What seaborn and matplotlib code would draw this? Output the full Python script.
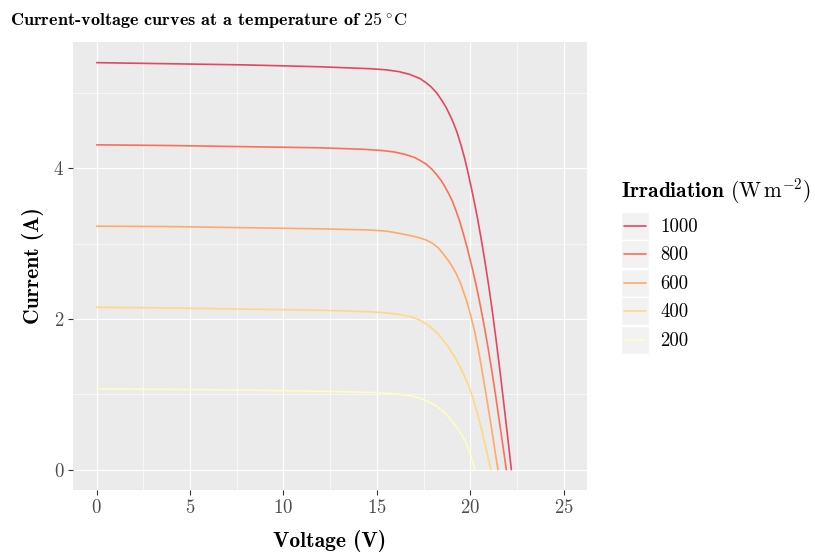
import matplotlib
matplotlib.use("Agg")
import matplotlib.pyplot as plt
import numpy as np
import pandas as pd
import seaborn as sns
from matplotlib.lines import Line2D
from matplotlib.patches import Rectangle
from matplotlib.legend_handler import HandlerBase
from matplotlib.ticker import MultipleLocator

# ---------------- data ----------------
irradiation_levels = ["1000", "800", "600", "400", "200"]

v_1000 = [0, 4, 8, 12, 14.6, 15.5, 16.2, 16.75, 17.0, 17.3, 17.6, 17.9, 18.2, 18.45, 18.7, 18.9, 19.1,
          19.3, 19.5, 19.7, 19.9, 20.1, 20.25, 20.4, 20.6, 20.8, 21.0, 21.2, 21.4, 21.6, 21.8, 22.0, 22.2]
i_1000 = [5.40, 5.385, 5.37, 5.345, 5.32, 5.305, 5.28, 5.245, 5.22, 5.19, 5.14, 5.08, 5.00, 4.91, 4.81, 4.71, 4.60,
          4.47, 4.31, 4.13, 3.92, 3.69, 3.51, 3.32, 3.04, 2.74, 2.42, 2.07, 1.69, 1.29, 0.87, 0.44, 0.0]

v_800 = [0, 4, 8, 12, 14.33, 15.23, 15.93, 16.48, 16.73, 17.03, 17.33, 17.63, 17.93, 18.18, 18.43, 18.63, 18.83,
         19.03, 19.23, 19.43, 19.63, 19.83, 19.98, 20.13, 20.33, 20.53, 20.73, 20.93, 21.13, 21.33, 21.53, 21.73, 21.93]
i_800 = [4.31, 4.30, 4.285, 4.27, 4.25, 4.235, 4.215, 4.185, 4.165, 4.14, 4.10, 4.055, 3.99, 3.92, 3.84, 3.76, 3.67,
         3.57, 3.44, 3.30, 3.13, 2.95, 2.80, 2.65, 2.43, 2.19, 1.93, 1.65, 1.35, 1.03, 0.69, 0.35, 0.0]

v_600 = [0, 4, 8, 12, 14.6, 15.5, 16.2, 16.8, 17.3, 17.65, 18.0, 18.3, 18.53, 18.75, 19.0, 19.25, 19.5,
         19.79, 20.0, 20.23, 20.45, 20.67, 20.9, 21.12, 21.3, 21.48]
i_600 = [3.23, 3.225, 3.21, 3.195, 3.18, 3.165, 3.135, 3.105, 3.075, 3.045, 3.00, 2.94, 2.87, 2.80, 2.71, 2.60, 2.46,
         2.25, 2.07, 1.84, 1.57, 1.26, 0.92, 0.58, 0.29, 0.0]

v_400 = [0, 4, 8, 12, 14.6, 15.5, 16.2, 16.8, 17.3, 17.75, 18.18, 18.55, 18.89, 19.25, 19.6, 19.9, 20.14,
         20.4, 20.6, 20.85, 21.1]
i_400 = [2.155, 2.145, 2.13, 2.115, 2.095, 2.08, 2.06, 2.03, 1.985, 1.915, 1.825, 1.72, 1.605, 1.46, 1.29, 1.12, 0.95,
         0.73, 0.54, 0.28, 0.0]

v_200 = [0, 4, 8, 12, 14.6, 15.5, 16.2, 16.8, 17.3, 17.75, 18.18, 18.55, 18.89, 19.2, 19.52, 19.75, 19.96,
         20.1, 20.25]
i_200 = [1.073, 1.065, 1.055, 1.04, 1.025, 1.015, 1.0, 0.98, 0.95, 0.905, 0.845, 0.775, 0.685, 0.59, 0.47, 0.37, 0.235,
         0.135, 0.0]

line_colors = ["#E5475F", "#FF6F57", "#FFA96B", "#FFD884", "#FFFDC2"]

x_ticks = [0, 5, 10, 15, 20, 25]
y_ticks = [0, 2, 4]

title_text = "Current-voltage curves at a temperature of $25\\,^{\\circ}\\mathrm{C}$"
x_label = "Voltage (V)"
y_label = "Current (A)"
legend_title = "Irradiation $(\\mathrm{W\\,m^{-2}})$"

# ---------------- build table ----------------
series_v = [v_1000, v_800, v_600, v_400, v_200]
series_i = [i_1000, i_800, i_600, i_400, i_200]
frames = []
for lvl, vv, ii in zip(irradiation_levels, series_v, series_i):
    frames.append(pd.DataFrame({"Voltage": vv, "Current": ii, "Irradiation": lvl}))
df = pd.concat(frames, ignore_index=True)
palette = dict(zip(irradiation_levels, line_colors))

# ---------------- style ----------------
sns.set_theme(style="darkgrid", rc={
    "axes.facecolor": "#EBEBEB",
    "figure.facecolor": "white",
    "grid.color": "white",
    "axes.edgecolor": "#EBEBEB",
})
plt.rcParams["font.family"] = ["cmr10", "DejaVu Serif"]
plt.rcParams["mathtext.fontset"] = "cm"
plt.rcParams["axes.formatter.use_mathtext"] = True
plt.rcParams["axes.unicode_minus"] = False

W, H = 815, 556
fig = plt.figure(figsize=(W / 100, H / 100), dpi=100)
L, R, T, B = 73.3, 587, 42.3, 490
ax = fig.add_axes([L / W, 1 - B / H, (R - L) / W, (B - T) / H])

sns.lineplot(data=df, x="Voltage", y="Current", hue="Irradiation",
             hue_order=irradiation_levels, palette=palette, estimator=None,
             sort=False, linewidth=1.2, legend=False, ax=ax)

ax.set_xlim(-1.25, 26.25)
ax.set_ylim(-0.27, 5.67)
ax.set_xticks(x_ticks)
ax.set_yticks(y_ticks)
ax.xaxis.set_minor_locator(MultipleLocator(2.5))
ax.yaxis.set_minor_locator(MultipleLocator(1))
ax.grid(which="major", color="white", linewidth=0.85)
ax.grid(which="minor", color="white", linewidth=0.45)
for s in ax.spines.values():
    s.set_visible(False)
ax.tick_params(which="major", length=3.5, width=0.8, color="#333333",
               labelcolor="#4D4D4D", labelsize=13.5, pad=3,
               bottom=True, left=True)
ax.tick_params(which="minor", length=0)

ax.set_xlabel(x_label, fontfamily="cmb10", fontsize=15.5, color="black")
ax.set_ylabel(y_label, fontfamily="cmb10", fontsize=15.5, color="black")
ax.xaxis.set_label_coords((330 - L) / (R - L), (B - 541) / (B - T))
ax.xaxis.label.set_va("center")
ax.yaxis.set_label_coords((33 - L) / (R - L), (B - 266) / (B - T))
ax.yaxis.label.set_va("center")

fig.text(10 / W, 1 - 19.5 / H, title_text, fontfamily="cmb10", fontsize=13.1,
         va="center", ha="left", color="black")


# ---------------- legend ----------------
class KeyHandler(HandlerBase):
    def create_artists(self, legend, orig_handle, xdescent, ydescent,
                       width, height, fontsize, trans):
        rect = Rectangle((-xdescent, -ydescent), width, height,
                         facecolor="#F2F2F2", edgecolor="white",
                         linewidth=1.0, transform=trans)
        y = -ydescent + height / 2
        line = Line2D([-xdescent + 0.1 * width, -xdescent + 0.9 * width],
                      [y, y], color=orig_handle.get_color(), lw=1.2,
                      transform=trans)
        return [rect, line]


handles = [Line2D([], [], color=palette[l]) for l in irradiation_levels]
fig.text(621 / W, 1 - 191 / H, legend_title, fontfamily="cmb10", fontsize=15.4,
         va="center", ha="left", color="black")
leg = fig.legend(handles, irradiation_levels, loc="upper left",
                 bbox_to_anchor=(621 / W, 1 - 211.5 / H), frameon=False,
                 borderpad=0, borderaxespad=0, fontsize=13.5,
                 handlelength=1.49, handleheight=1.925, labelspacing=0.03,
                 handletextpad=0.59,
                 handler_map={Line2D: KeyHandler()})
for t in leg.get_texts():
    t.set_color("black")

fig.savefig("out.png", dpi=100)
